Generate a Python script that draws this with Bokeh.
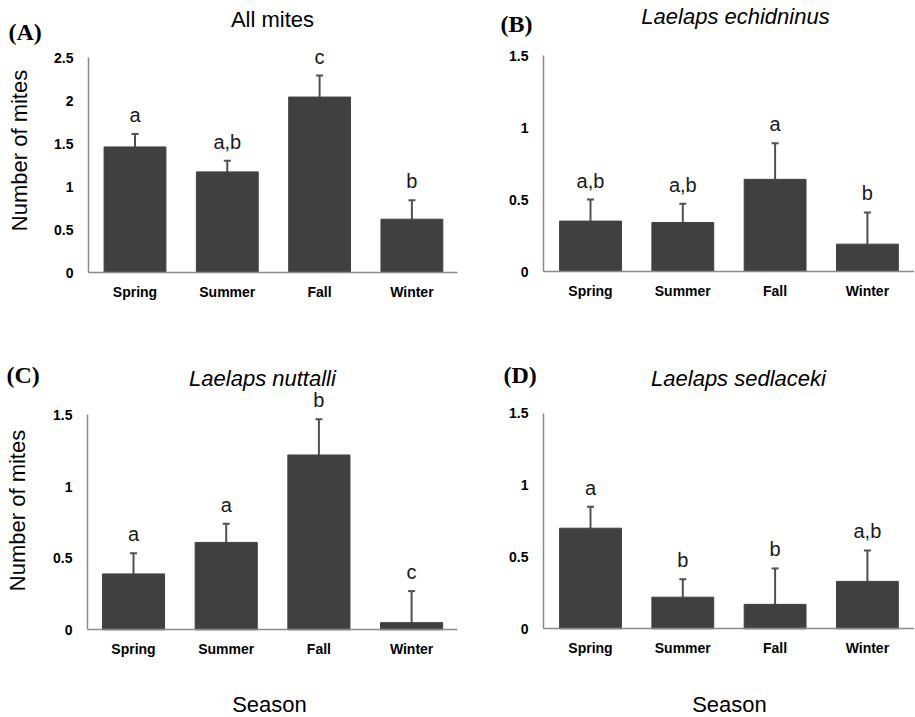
from bokeh.plotting import figure
from bokeh.models import Range1d, FixedTicker, Whisker, TeeHead, ColumnDataSource, Label
from bokeh.layouts import column, row
from bokeh.core.properties import value
from bokeh.embed import file_html
from bokeh.resources import INLINE
import math

# ---------------- data ----------------
seasons = ["Spring", "Summer", "Fall", "Winter"]

all_mites_mean = [1.46, 1.17, 2.04, 0.62]
all_mites_se = [0.15, 0.13, 0.25, 0.22]
all_mites_letters = ["a", "a,b", "c", "b"]

echidninus_mean = [0.35, 0.34, 0.64, 0.19]
echidninus_se = [0.15, 0.13, 0.25, 0.22]
echidninus_letters = ["a,b", "a,b", "a", "b"]

nuttalli_mean = [0.39, 0.61, 1.22, 0.05]
nuttalli_se = [0.145, 0.13, 0.25, 0.22]
nuttalli_letters = ["a", "a", "b", "c"]

sedlaceki_mean = [0.70, 0.22, 0.17, 0.33]
sedlaceki_se = [0.15, 0.125, 0.25, 0.215]
sedlaceki_letters = ["a", "b", "b", "a,b"]

ticks_a = [0, 0.5, 1, 1.5, 2, 2.5]
tick_labels_a = ["0", "0.5", "1", "1.5", "2", "2.5"]
ticks_b = [0, 0.5, 1, 1.5]
tick_labels_b = ["0", "0.5", "1", "1.5"]

BAR = "#404040"
ERR = "#505050"
AXIS = "#8a8a8a"
SANS = "Liberation Sans"
SERIF = "Liberation Serif"


def panel(mean, se, letters, ticks, tick_labels, W, H, cat0, ppc, axis_px, right_px,
          zero_py, ppu, tag, tag_pos, title, italic, title_pos,
          ylabel_pos=None, xlabel_pos=None):
    # frame covers the whole canvas; axes are pinned with fixed_location
    x0 = -cat0 / ppc
    y0 = -(H - zero_py) / ppu
    p = figure(width=W, height=H, output_backend="svg", toolbar_location=None,
               x_range=Range1d(x0, x0 + W / ppc),
               y_range=Range1d(y0, y0 + H / ppu),
               min_border=0, min_border_left=0, min_border_right=0,
               min_border_top=0, min_border_bottom=0,
               background_fill_color="white", border_fill_color="white",
               outline_line_color=None)
    p.grid.visible = False
    xs = list(range(len(seasons)))
    upper = [m + s for m, s in zip(mean, se)]
    src = ColumnDataSource(dict(x=xs, top=mean, upper=upper, letters=letters))
    p.vbar(x="x", top="top", width=0.67, source=src, fill_color=BAR, line_color=BAR)
    p.add_layout(Whisker(base="x", lower="top", upper="upper", source=src,
                         line_color=ERR, line_width=2, lower_head=None,
                         upper_head=TeeHead(size=7, line_color=ERR, line_width=2)))
    p.text(x="x", y="upper", text="letters", source=src, text_align="center",
           text_baseline="alphabetic", y_offset=-19, text_font=value(SANS),
           text_font_size="20px", text_color="#1a1a1a")

    ax_x = (axis_px - cat0) / ppc
    ax_right = (right_px - cat0) / ppc
    p.xaxis.fixed_location = 0
    p.yaxis.fixed_location = ax_x
    p.xaxis.bounds = (ax_x, ax_right)
    p.yaxis.bounds = (0, ticks[-1])
    p.xaxis.ticker = FixedTicker(ticks=xs)
    p.xaxis.major_label_overrides = {i: s for i, s in zip(xs, seasons)}
    p.yaxis.ticker = FixedTicker(ticks=ticks)
    p.yaxis.major_label_overrides = {t: l for t, l in zip(ticks, tick_labels)}
    for ax in (p.xaxis, p.yaxis):
        ax.major_tick_line_color = None
        ax.minor_tick_line_color = None
        ax.major_tick_out = 0
        ax.major_tick_in = 0
        ax.axis_line_color = AXIS
        ax.axis_line_width = 1.5
        ax.major_label_text_font = SANS
        ax.major_label_text_font_style = "bold"
        ax.major_label_text_font_size = "14px"
        ax.major_label_text_color = "black"
    p.xaxis.major_label_standoff = 11
    p.yaxis.major_label_standoff = 15

    def lab(text, pos, font, size, style="normal", align="center", baseline="alphabetic", angle=0):
        p.add_layout(Label(x=pos[0], y=H - pos[1], x_units="screen", y_units="screen",
                           text=text, text_font=font, text_font_style=style,
                           text_font_size=size, text_color="black", angle=angle,
                           text_align=align, text_baseline=baseline))

    lab(tag, tag_pos, SERIF, "24px", style="bold", align="left")
    lab(title, title_pos, SANS, "22px", style="italic" if italic else "normal")
    if ylabel_pos is not None:
        lab("Number of mites", ylabel_pos, SANS, "22px", baseline="middle", angle=math.pi / 2)
    if xlabel_pos is not None:
        lab("Season", xlabel_pos, SANS, "22px")
    return p


# positions below are canvas pixels (left, top origin) within each panel
pa = panel(all_mites_mean, all_mites_se, all_mites_letters, ticks_a, tick_labels_a,
           W=458, H=360, cat0=134.5, ppc=92.3, axis_px=88, right_px=457,
           zero_py=272, ppu=86,
           tag="(A)", tag_pos=(8, 31), title="All mites", italic=False, title_pos=(272, 19),
           ylabel_pos=(19, 150))
pb = panel(echidninus_mean, echidninus_se, echidninus_letters, ticks_b, tick_labels_b,
           W=456, H=360, cat0=132, ppc=92.3, axis_px=85, right_px=456,
           zero_py=271, ppu=144,
           tag="(B)", tag_pos=(42, 23), title="Laelaps echidninus", italic=True,
           title_pos=(277, 16))
pc = panel(nuttalli_mean, nuttalli_se, nuttalli_letters, ticks_b, tick_labels_b,
           W=458, H=356, cat0=133, ppc=92.7, axis_px=87, right_px=457,
           zero_py=269.3, ppu=143.3,
           tag="(C)", tag_pos=(6, 14), title="Laelaps nuttalli", italic=True,
           title_pos=(262, 18), ylabel_pos=(17, 150), xlabel_pos=(269, 344))
pd_ = panel(sedlaceki_mean, sedlaceki_se, sedlaceki_letters, ticks_b, tick_labels_b,
            W=456, H=356, cat0=132, ppc=92.3, axis_px=85, right_px=456,
            zero_py=268.3, ppu=143.7,
            tag="(D)", tag_pos=(45, 14), title="Laelaps sedlaceki", italic=True,
            title_pos=(280, 18), xlabel_pos=(271, 344))

layout = column(row(pa, pb), row(pc, pd_))
open("out.html", "w").write(file_html(layout, INLINE))
